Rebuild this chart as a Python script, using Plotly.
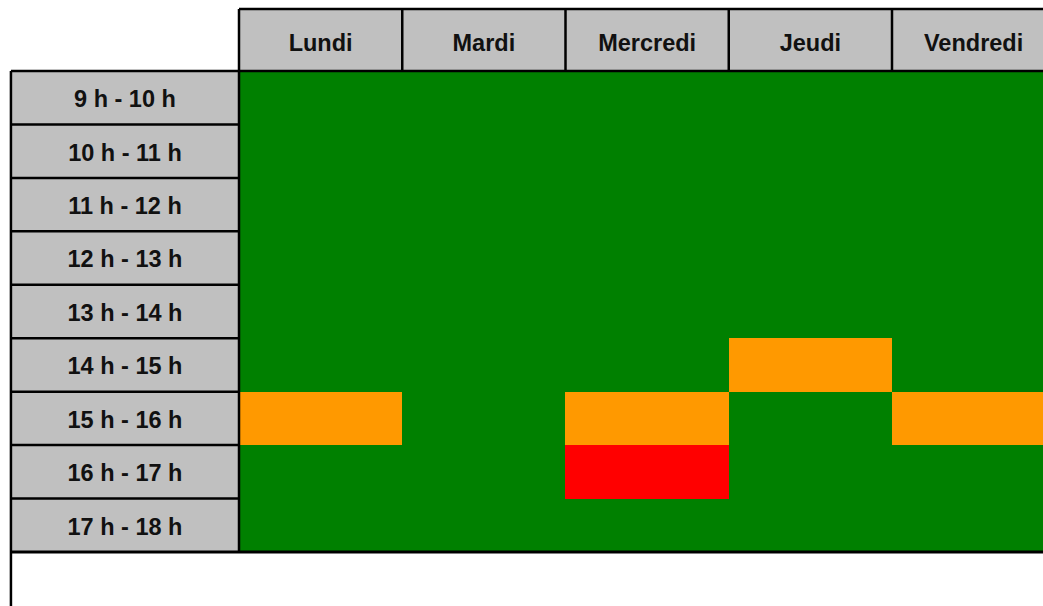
import plotly.graph_objects as go

days = ["Lundi", "Mardi", "Mercredi", "Jeudi", "Vendredi"]
slots = ["9 h - 10 h", "10 h - 11 h", "11 h - 12 h", "12 h - 13 h", "13 h - 14 h",
         "14 h - 15 h", "15 h - 16 h", "16 h - 17 h", "17 h - 18 h"]
# 0 = libre (vert), 1 = partiel (orange), 2 = occupé (rouge)
status = [
    [0, 0, 0, 0, 0],
    [0, 0, 0, 0, 0],
    [0, 0, 0, 0, 0],
    [0, 0, 0, 0, 0],
    [0, 0, 0, 0, 0],
    [0, 0, 0, 1, 0],
    [1, 0, 1, 0, 1],
    [0, 0, 2, 0, 0],
    [0, 0, 0, 0, 0],
]
status_colors = ["#008000", "#FF9900", "#FF0000"]

HEADER_H = 1.16      # header row height, in row units
LABEL_W = 1.397      # label column width, in day-column units
GREY = "#C0C0C0"
FONT = dict(family="Arial, Liberation Sans, sans-serif", size=23.5, color="#111111", weight="bold")

nd, ns = len(days), len(slots)
x_edges = list(range(nd + 1))
y_edges = list(range(ns + 1))

fig = go.Figure()

# data grid
cs = []
n = len(status_colors)
for i, c in enumerate(status_colors):
    cs.append([i / n, c])
    cs.append([(i + 1) / n, c])
fig.add_trace(go.Heatmap(
    x=x_edges, y=y_edges, z=status, zmin=-0.5, zmax=n - 0.5,
    colorscale=cs, showscale=False, hoverinfo="skip"))

# header row
fig.add_trace(go.Heatmap(
    x=x_edges, y=[-HEADER_H, 0], z=[[0] * nd],
    colorscale=[[0, GREY], [1, GREY]], showscale=False, hoverinfo="skip"))
# label column
fig.add_trace(go.Heatmap(
    x=[-LABEL_W, 0], y=y_edges, z=[[0] for _ in slots],
    colorscale=[[0, GREY], [1, GREY]], showscale=False, hoverinfo="skip"))

# texts
fig.add_trace(go.Scatter(
    x=[i + 0.5 for i in range(nd)], y=[-HEADER_H / 2 + 0.09] * nd, text=days,
    mode="text", textfont=FONT, hoverinfo="skip"))
fig.add_trace(go.Scatter(
    x=[-LABEL_W / 2] * ns, y=[j + 0.565 for j in range(ns)], text=slots,
    mode="text", textfont=FONT, hoverinfo="skip"))

# borders
def seg(x0, y0, x1, y1, w=2.5):
    fig.add_shape(type="line", x0=x0, y0=y0, x1=x1, y1=y1, xref="x", yref="y",
                  line=dict(color="#000000", width=w))

seg(0, -HEADER_H, nd + 0.2, -HEADER_H)
for i in range(nd + 1):
    seg(i, -HEADER_H, i, 0, 2.5)
seg(0, 0, 0, ns)
seg(-LABEL_W, 0, nd + 0.2, 0)
for j in range(1, ns):
    seg(-LABEL_W, j, 0, j)
seg(-LABEL_W, ns, nd + 0.2, ns, 3)
seg(-LABEL_W, 0, -LABEL_W, ns + 2)

col_px = 163.25
row_px = 53.44
x0_px, y0_px = 239, 71
W, H = 1043, 606
fig.update_xaxes(range=[-x0_px / col_px, (W - x0_px) / col_px], visible=False, fixedrange=True)
fig.update_yaxes(range=[(H - y0_px) / row_px, -y0_px / row_px], visible=False, fixedrange=True)
fig.update_layout(width=W, height=H, margin=dict(l=0, r=0, t=0, b=0),
                  plot_bgcolor="white", paper_bgcolor="white", showlegend=False)

fig.write_html("out.html", config={"displayModeBar": False},
               post_script="document.body.style.margin='0';document.body.style.overflow='hidden';")
